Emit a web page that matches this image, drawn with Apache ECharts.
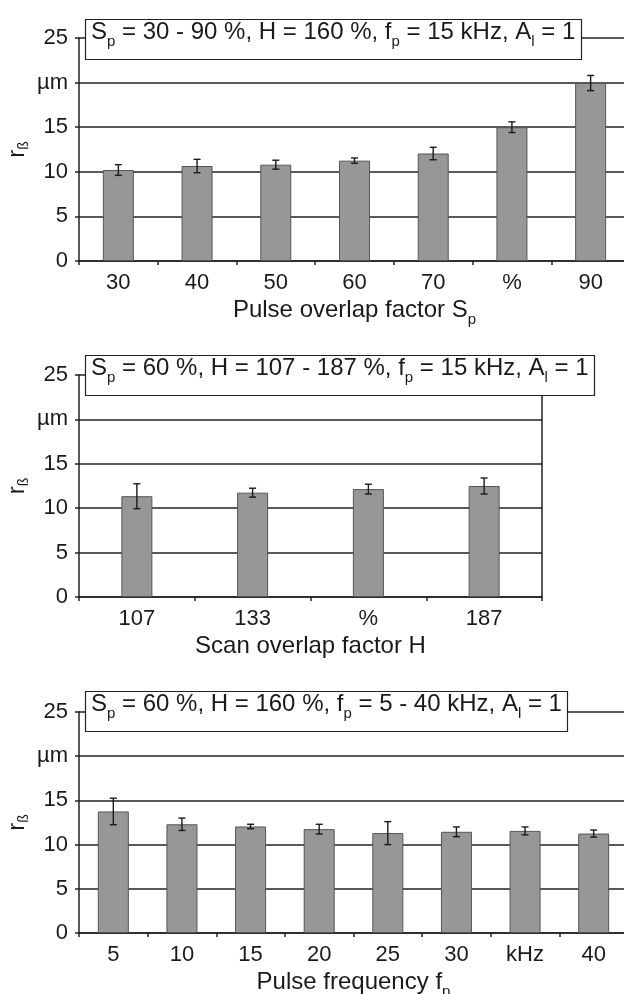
<!DOCTYPE html>
<html>
<head>
<meta charset="utf-8">
<script src="https://cdn.jsdelivr.net/npm/echarts@6/dist/echarts.min.js"></script>
<style>
html,body{margin:0;padding:0;background:#fff;}
#chart{width:624px;height:994px;}
</style>
</head>
<body>
<div id="chart"></div>
<script>
// ---- data ----
const yTickLabels = ['0', '5', '10', '15', 'µm', '25'];

const cats1 = ['30', '40', '50', '60', '70', '%', '90'];
const vals1 = [10.2, 10.65, 10.8, 11.25, 12.05, 15.0, 19.95];
const errs1 = [0.6, 0.75, 0.5, 0.3, 0.7, 0.6, 0.85];

const cats2 = ['107', '133', '%', '187'];
const vals2 = [11.35, 11.75, 12.15, 12.5];
const errs2 = [1.4, 0.5, 0.55, 0.9];

const cats3 = ['5', '10', '15', '20', '25', '30', 'kHz', '40'];
const vals3 = [13.75, 12.3, 12.05, 11.75, 11.3, 11.45, 11.55, 11.25];
const errs3 = [1.5, 0.7, 0.25, 0.55, 1.3, 0.55, 0.45, 0.4];

const titles = [
  '{m|S}{s|p}{m| = 30 - 90 %, H = 160 %, f}{s|p}{m| = 15 kHz, A}{s|l}{m| = 1}',
  '{m|S}{s|p}{m| = 60 %, H = 107 - 187 %, f}{s|p}{m| = 15 kHz, A}{s|l}{m| = 1}',
  '{m|S}{s|p}{m| = 60 %, H = 160 %, f}{s|p}{m| = 5 - 40 kHz, A}{s|l}{m| = 1}'
];
const xNames = [
  '{m|Pulse overlap factor S}{s|p}',
  '{m|Scan overlap factor H}',
  '{m|Pulse frequency f}{s|p}'
];
const yName = '{m|r}{s|ß}';

// ---- styling ----
const FONT = '"Liberation Sans", Arial, Helvetica, sans-serif';
const INK = '#1a1a1a';
const LINE = '#222';

const grids = [
  { left: 79, top: 38, width: 551, height: 223, outerBoundsMode: 'none', containLabel: false },
  { left: 79, top: 375, width: 463, height: 222, outerBoundsMode: 'none', containLabel: false },
  { left: 79, top: 712, width: 549, height: 221, outerBoundsMode: 'none', containLabel: false }
];
const titleTops = [19, 355, 691];

const catsAll = [cats1, cats2, cats3];
const valsAll = [vals1, vals2, vals3];
const errsAll = [errs1, errs2, errs3];

const subRich = {
  m: { fontSize: 24, fontWeight: 'normal', fontFamily: FONT, color: INK, verticalAlign: 'top', lineHeight: 24 },
  s: { fontSize: 15, fontWeight: 'normal', fontFamily: FONT, color: INK, verticalAlign: 'top', lineHeight: 15, padding: [14, 0, 0, 0] }
};
const axisRich = {
  m: { fontSize: 24, fontWeight: 'normal', fontFamily: FONT, color: INK, verticalAlign: 'top', lineHeight: 24 },
  s: { fontSize: 15, fontWeight: 'normal', fontFamily: FONT, color: INK, verticalAlign: 'top', lineHeight: 15, padding: [14, 0, 0, 0] }
};
const yNameRich = {
  m: { fontSize: 24, fontWeight: 'normal', fontFamily: FONT, color: INK, verticalAlign: 'top', lineHeight: 24 },
  s: { fontSize: 14, fontWeight: 'normal', fontFamily: FONT, color: INK, verticalAlign: 'top', lineHeight: 14, padding: [12, 0, 0, 0] }
};

const xAxis = [], yAxis = [], series = [], title = [];
for (let i = 0; i < 3; i++) {
  title.push({
    text: titles[i],
    left: 85, top: titleTops[i],
    padding: [1, 6, 11, 6],
    backgroundColor: '#fff',
    borderColor: LINE, borderWidth: 1.2,
    textStyle: { rich: subRich, fontSize: 24, fontWeight: 'normal', fontFamily: FONT, color: INK },
    z: 10
  });
  xAxis.push({
    type: 'category', gridIndex: i, data: catsAll[i], boundaryGap: true,
    axisLine: { show: true, lineStyle: { color: LINE, width: 1.5 } },
    axisTick: { show: true, length: 4, inside: false, lineStyle: { color: LINE, width: 1.5 } },
    axisLabel: { fontSize: 22, fontFamily: FONT, color: INK, margin: 11, interval: 0 },
    splitLine: { show: false },
    name: xNames[i], nameLocation: 'middle', nameGap: 37, nameMoveOverlap: false,
    nameTextStyle: { rich: axisRich, fontFamily: FONT }
  });
  yAxis.push({
    type: 'value', gridIndex: i, min: 0, max: 25, interval: 5,
    axisLine: { show: true, lineStyle: { color: LINE, width: 1.5 } },
    axisTick: { show: true, length: 4, lineStyle: { color: LINE, width: 1.5 } },
    axisLabel: {
      fontSize: 22, fontFamily: FONT, color: INK, margin: 11,
      formatter: v => yTickLabels[Math.round(v / 5)]
    },
    splitLine: { show: true, lineStyle: { color: LINE, width: 1.5 } },
    name: yName, nameLocation: 'middle', nameGap: 50, nameRotate: 90, nameMoveOverlap: false,
    nameTextStyle: { rich: yNameRich, fontFamily: FONT }
  });
  series.push({
    type: 'bar', xAxisIndex: i, yAxisIndex: i,
    data: valsAll[i], barWidth: 31,
    itemStyle: { color: '#979797', borderColor: '#555', borderWidth: 1 },
    z: 2
  });
  const ebData = valsAll[i].map((v, k) => [k, v, errsAll[i][k]]);
  series.push({
    type: 'custom', xAxisIndex: i, yAxisIndex: i, data: ebData, z: 5,
    renderItem: (params, api) => {
      const x = api.value(0), v = api.value(1), e = api.value(2);
      const hi = api.coord([x, v + e]);
      const lo = api.coord([x, v - e]);
      const hw = 3.5;
      const st = { stroke: '#1a1a1a', lineWidth: 1.4 };
      return {
        type: 'group',
        children: [
          { type: 'line', shape: { x1: hi[0], y1: hi[1], x2: lo[0], y2: lo[1] }, style: st },
          { type: 'line', shape: { x1: hi[0] - hw, y1: hi[1], x2: hi[0] + hw, y2: hi[1] }, style: st },
          { type: 'line', shape: { x1: lo[0] - hw, y1: lo[1], x2: lo[0] + hw, y2: lo[1] }, style: st }
        ]
      };
    }
  });
}
// right border of middle panel
yAxis.push({
  type: 'value', gridIndex: 1, min: 0, max: 25, interval: 5, position: 'right',
  axisLine: { show: true, onZero: false, lineStyle: { color: LINE, width: 1.5 } },
  axisTick: { show: false }, axisLabel: { show: false }, splitLine: { show: false }
});

const chart = echarts.init(document.getElementById('chart'), null, { renderer: 'canvas' });
chart.setOption({
  backgroundColor: '#fff',
  animation: false,
  title: title,
  grid: grids,
  xAxis: xAxis,
  yAxis: yAxis,
  series: series
});
</script>
</body>
</html>
